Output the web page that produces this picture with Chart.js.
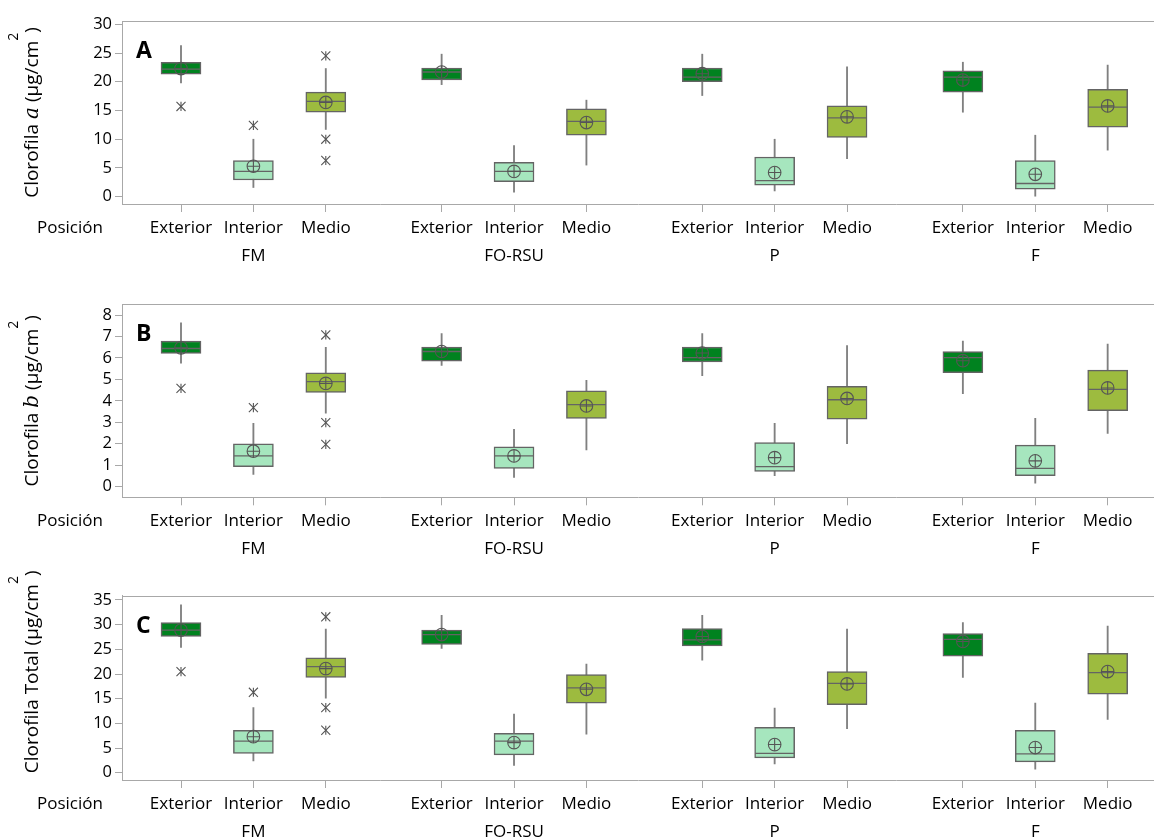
<!DOCTYPE html>
<html><head><meta charset="utf-8">
<script src="https://cdn.jsdelivr.net/npm/chart.js@4.4.0/dist/chart.umd.min.js"></script>
<style>
html,body{margin:0;padding:0;background:#fff;overflow:hidden;width:1154px;height:837px}
canvas{position:absolute;left:0;display:block}
</style></head><body>
<canvas id="ca" width="1154" height="280" style="top:0px"></canvas>
<canvas id="cb" width="1154" height="280" style="top:280px"></canvas>
<canvas id="cc" width="1154" height="277" style="top:560px"></canvas>
<script>
// ---------- data ----------
const positions = ['Exterior', 'Interior', 'Medio'];
const groups = ['FM', 'FO-RSU', 'P', 'F'];
const axisLabel = 'Posición';

// Panel A: Clorofila a
const aWhiskerLow  = [19.8, 1.6, 11.7, 19.5, 0.8, 5.5, 17.6, 1.0, 6.6, 14.7, 0.0, 8.1];
const aQ1          = [21.3, 2.9, 14.7, 20.3, 2.6, 10.7, 20.0, 2.0, 10.3, 18.2, 1.3, 12.1];
const aMedian      = [22.2, 4.4, 16.6, 21.7, 4.4, 13.1, 20.8, 2.8, 13.7, 20.8, 2.3, 15.6];
const aQ3          = [23.4, 6.3, 18.2, 22.4, 6.0, 15.3, 22.4, 6.9, 15.8, 21.9, 6.3, 18.7];
const aWhiskerHigh = [26.3, 10.0, 22.3, 24.8, 8.9, 16.8, 24.8, 10.0, 22.6, 23.4, 10.7, 22.9];
const aMean        = [22.3, 5.3, 16.4, 21.7, 4.4, 12.9, 21.4, 4.2, 13.9, 20.3, 3.9, 15.8];
const aOutliers    = [[15.7], [12.4], [24.5, 10.0, 6.3], [], [], [], [], [], [], [], [], []];
const aTicks = [0, 5, 10, 15, 20, 25, 30];

// Panel B: Clorofila b
const bWhiskerLow  = [5.75, 0.57, 3.42, 5.65, 0.43, 1.71, 5.17, 0.51, 2.00, 4.33, 0.16, 2.48];
const bQ1          = [6.21, 0.93, 4.39, 5.85, 0.85, 3.18, 5.81, 0.71, 3.14, 5.31, 0.51, 3.54];
const bMedian      = [6.44, 1.43, 4.89, 6.30, 1.43, 3.82, 6.01, 0.93, 4.05, 6.01, 0.85, 4.53];
const bQ3          = [6.79, 1.99, 5.31, 6.51, 1.85, 4.47, 6.51, 2.05, 4.67, 6.30, 1.93, 5.43];
const bWhiskerHigh = [7.64, 2.95, 6.49, 7.14, 2.67, 4.95, 7.14, 2.95, 6.57, 6.79, 3.18, 6.65];
const bMean        = [6.47, 1.65, 4.81, 6.30, 1.43, 3.76, 6.23, 1.35, 4.11, 5.87, 1.20, 4.60];
const bOutliers    = [[4.58], [3.68], [7.07, 2.98, 1.97], [], [], [], [], [], [], [], [], []];
const bTicks = [0, 1, 2, 3, 4, 5, 6, 7, 8];

// Panel C: Clorofila Total
const cWhiskerLow  = [25.4, 2.4, 15.1, 25.2, 1.5, 7.8, 22.8, 1.8, 8.9, 19.3, 0.7, 10.8];
const cQ1          = [27.6, 3.9, 19.3, 26.0, 3.6, 14.1, 25.7, 3.0, 13.8, 23.6, 2.2, 15.9];
const cMedian      = [28.9, 6.4, 21.5, 28.0, 6.4, 17.2, 26.9, 3.9, 18.1, 27.0, 3.8, 20.3];
const cQ3          = [30.4, 8.6, 23.3, 28.9, 8.0, 19.9, 29.2, 9.2, 20.5, 28.2, 8.6, 24.2];
const cWhiskerHigh = [34.0, 13.2, 29.1, 31.9, 11.9, 22.0, 31.9, 13.1, 29.1, 30.4, 14.1, 29.7];
const cMean        = [28.9, 7.3, 21.1, 28.0, 6.1, 16.9, 27.6, 5.7, 18.0, 26.6, 5.1, 20.5];
const cOutliers    = [[20.5], [16.3], [31.6, 13.2, 8.6], [], [], [], [], [], [], [], [], []];
const cTicks = [0, 5, 10, 15, 20, 25, 30, 35];

// ---------- styles ----------
const FONT = "'Open Sans', 'Noto Sans', sans-serif";
const fills = ['#00821F', '#A6E6BE', '#9DBB3F'];
const axisGray = '#A8A8A8';
const lineGray = '#646464';
const groupStep = 3.6;
const xOf = i => Math.floor(i / 3) * groupStep + (i % 3);
const xTickValues = groups.flatMap((_, g) => positions.map((_, p) => g * groupStep + p));

function buildDatasets(wl, q1, med, q3, wh, mean, outl) {
  const idx = med.map((_, i) => i);
  const outPts = [];
  outl.forEach((arr, i) => arr.forEach(v => outPts.push({ x: xOf(i), y: v })));
  return [
    { type: 'bar', data: idx.map(i => ({ x: xOf(i), y: [wl[i], wh[i]] })),
      backgroundColor: '#808080', borderWidth: 0, barThickness: 1.2, grouped: false, order: 10 },
    { type: 'bar', data: idx.map(i => ({ x: xOf(i), y: [q1[i], q3[i]] })),
      backgroundColor: idx.map(i => fills[i % 3]), borderColor: lineGray, borderWidth: 1.5,
      borderSkipped: false, barThickness: 40, grouped: false, order: 5 },
    { type: 'scatter', data: idx.map(i => ({ x: xOf(i), y: med[i] })),
      pointStyle: 'line', pointRadius: 19.5, pointBorderColor: lineGray, pointBorderWidth: 1.3, order: 3 },
    { type: 'scatter', data: idx.map(i => ({ x: xOf(i), y: mean[i] })),
      pointStyle: 'circle', pointRadius: 6.3, pointBackgroundColor: 'rgba(0,0,0,0)',
      pointBorderColor: '#555', pointBorderWidth: 1.1, order: 2 },
    { type: 'scatter', data: idx.map(i => ({ x: xOf(i), y: mean[i] })),
      pointStyle: 'cross', pointRadius: 6.3, pointBorderColor: '#555', pointBorderWidth: 1.1, order: 1 },
    { type: 'scatter', data: outPts, pointStyle: 'crossRot', pointRadius: 6.4,
      pointBorderColor: '#555', pointBorderWidth: 1.1, order: 0 },
    { type: 'scatter', data: outPts, pointStyle: 'line', pointRotation: 90, pointRadius: 4.6,
      pointBorderColor: '#555', pointBorderWidth: 1.1, order: 0 }
  ];
}

const decor = {
  id: 'decor',
  afterDraw(chart, args, o) {
    const ctx = chart.ctx, ca = chart.chartArea, xs = chart.scales.x;
    ctx.save();
    // top frame line
    ctx.strokeStyle = axisGray; ctx.lineWidth = 1;
    ctx.beginPath(); ctx.moveTo(ca.left, Math.round(ca.top) + 0.5); ctx.lineTo(chart.width, Math.round(ca.top) + 0.5); ctx.stroke();
    // panel letter
    ctx.fillStyle = '#000'; ctx.font = "bold 23px " + FONT; ctx.textAlign = 'left'; ctx.textBaseline = 'alphabetic';
    ctx.fillText(o.letter, ca.left + 14, ca.top + 37);
    // Posición label on first tick row
    ctx.font = "17px " + FONT; ctx.textBaseline = 'middle'; ctx.fillStyle = '#000';
    ctx.fillText(axisLabel, 37, xs.top + 8 + 2 + 14);
    // y title (rotated, mixed fonts)
    ctx.translate(38, (ca.top + ca.bottom) / 2 + (o.titleShift || 0));
    ctx.rotate(-Math.PI / 2);
    let total = 0;
    o.title.forEach(p => { ctx.font = p.font; p.w = ctx.measureText(p.t).width; total += p.w; });
    let x = -total / 2;
    ctx.textBaseline = 'alphabetic';
    o.title.forEach(p => { ctx.font = p.font; ctx.fillText(p.t, x, p.dy || 0); x += p.w; });
    ctx.restore();
  }
};

function titleParts(word, italic) {
  const f = "19px " + FONT;
  const parts = [{ t: 'Clorofila ', font: f }];
  if (italic) parts.push({ t: word, font: "italic 20px 'DejaVu Serif', serif" }, { t: ' (µg/cm', font: f });
  else parts.push({ t: word + ' (µg/cm', font: f });
  parts.push({ t: '2', font: "14px " + FONT, dy: -20 }, { t: ')', font: f });
  return parts;
}

function makeChart(id, ds, yMin, yMax, yTicks, topPad, xH, letter, title, titleShift) {
  new Chart(document.getElementById(id), {
    type: 'bar',
    data: { datasets: ds },
    options: {
      responsive: false, animation: false, events: [],
      layout: { autoPadding: false, padding: { top: topPad, left: 0, right: 0, bottom: 0 } },
      plugins: { legend: { display: false }, tooltip: { enabled: false },
        decor: { letter, title, titleShift } },
      scales: {
        x: {
          type: 'linear', min: -0.815, max: 13.44, offset: false,
          afterBuildTicks: s => { s.ticks = xTickValues.map(v => ({ value: v })); },
          afterFit: s => { s.height = xH; s.paddingLeft = 0; s.paddingRight = 0; },
          grid: { drawOnChartArea: false, offset: false, tickLength: 8, color: axisGray },
          border: { display: true, color: axisGray, width: 1 },
          ticks: { autoSkip: false, maxRotation: 0, minRotation: 0, padding: 2, color: '#000',
            font: { family: FONT, size: 17, lineHeight: 1.65 },
            callback: (v, i) => (i % 3 === 1 ? [positions[1], groups[Math.floor(i / 3)]] : positions[i % 3]) }
        },
        y: {
          min: yMin, max: yMax,
          afterBuildTicks: s => { s.ticks = yTicks.map(v => ({ value: v })); },
          afterFit: s => { s.width = 122; s.paddingTop = 0; s.paddingBottom = 0; },
          grid: { drawOnChartArea: false, tickLength: 7, color: axisGray },
          border: { display: true, color: axisGray, width: 1 },
          ticks: { padding: 3, color: '#000', font: { family: FONT, size: 16.5 } }
        }
      }
    },
    plugins: [decor]
  });
}

makeChart('ca', buildDatasets(aWhiskerLow, aQ1, aMedian, aQ3, aWhiskerHigh, aMean, aOutliers),
  -1.27, 30.57, aTicks, 21, 76, 'A', titleParts('a', true), 0);
makeChart('cb', buildDatasets(bWhiskerLow, bQ1, bMedian, bQ3, bWhiskerHigh, bMean, bOutliers),
  -0.5, 8.5, bTicks, 24.3, 62.7, 'B', titleParts('b', true), 0);
makeChart('cc', buildDatasets(cWhiskerLow, cQ1, cMedian, cQ3, cWhiskerHigh, cMean, cOutliers),
  -1.48, 35.87, cTicks, 35.7, 57, 'C', titleParts('Total', false), -16);
</script>
</body></html>
